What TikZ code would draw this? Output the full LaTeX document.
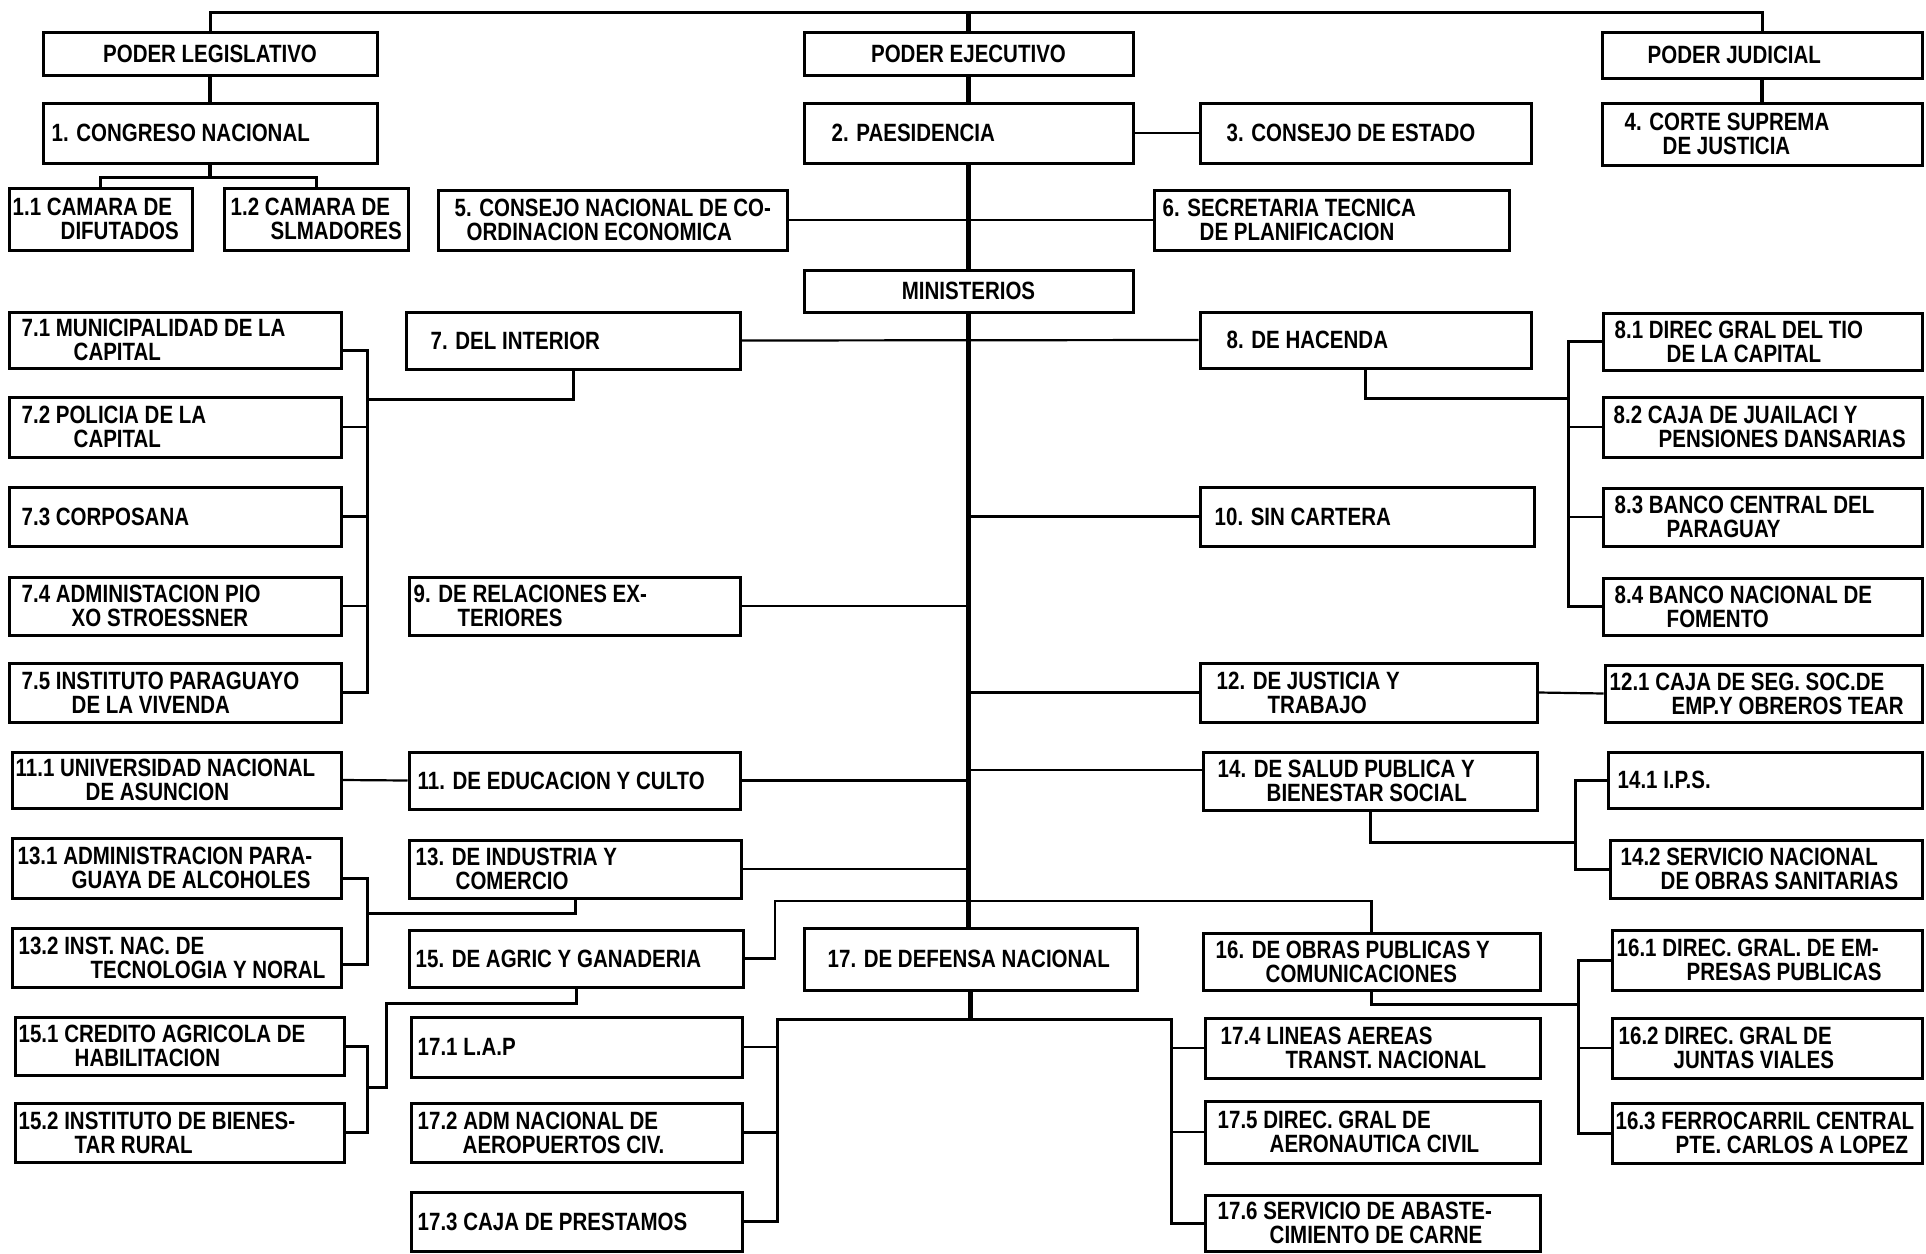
\documentclass[tikz,border=0pt]{standalone}
\usepackage{fontspec}
\newfontfamily\bxf{Liberation Sans}[FakeStretch=0.82]
\newcommand\bx[7][14]{%
 \pgfmathsetmacro\bxW{#5-#3}\pgfmathsetmacro\bxH{#6-#4}%
 \pgfmathsetmacro\bxX{(#3+#5)/2}\pgfmathsetmacro\bxY{(#4+#6)/2}%
 \node[bx, minimum width=\bxW pt, minimum height=\bxH pt,
   label={[lbl, xshift=#1pt]west:{#7}}] (#2) at (\bxX,\bxY) {};}
\newcommand\cbx[6]{%
 \pgfmathsetmacro\bxW{#4-#2}\pgfmathsetmacro\bxH{#5-#3}%
 \pgfmathsetmacro\bxX{(#2+#4)/2}\pgfmathsetmacro\bxY{(#3+#5)/2}%
 \node[bx, minimum width=\bxW pt, minimum height=\bxH pt, txt] (#1) at (\bxX,\bxY) {#6};}
\begin{document}
\begin{tikzpicture}[x=1pt,y=-1pt,
 bx/.style={draw, line width=3pt, inner sep=0pt},
 txt/.style={font=\bxf\bfseries\fontsize{25}{24}\selectfont},
 lbl/.style={anchor=west, align=left, inner sep=0pt, txt},
 conn/.style={line width=2.2pt},
 bus/.style={line width=3pt},
 spine/.style={line width=4.5pt}]
\useasboundingbox (0,0) rectangle (1926,1253);
\fill[white] (0,0) rectangle (1926,1253);
% boxes
\cbx{leg}{43}{32}{377}{75}{PODER LEGISLATIVO}
\cbx{ej}{804}{32}{1133}{75}{PODER EJECUTIVO}
\bx[47]{jud}{1602}{32}{1922}{78}{PODER JUDICIAL}
\bx[10]{cong}{43}{103}{377}{163}{1. CONGRESO NACIONAL}
\bx[29]{pres}{804}{103}{1133}{163}{2. PAESIDENCIA}
\bx[28]{con3}{1200}{103}{1531}{163}{3. CONSEJO DE ESTADO}
\bx[24]{cs4}{1602}{103}{1922}{165}{4. CORTE SUPREMA\\\hspace*{38pt}DE JUSTICIA}
\bx[5]{c11}{9}{188}{192}{250}{1.1 CAMARA DE\\\hspace*{48pt}DIFUTADOS}
\bx[8]{c12}{224}{188}{408}{250}{1.2 CAMARA DE\\\hspace*{40pt}SLMADORES}
\bx[18]{cn5}{438}{190}{787}{250}{5. CONSEJO NACIONAL DE CO-\\\hspace*{12pt}ORDINACION ECONOMICA}
\bx[10]{st6}{1154}{190}{1509}{250}{6. SECRETARIA TECNICA\\\hspace*{37pt}DE PLANIFICACION}
\cbx{mins}{804}{270}{1133}{312}{MINISTERIOS}
\bx{m71}{9}{312}{341}{368}{7.1 MUNICIPALIDAD DE LA\\\hspace*{52pt}CAPITAL}
\bx[26]{int7}{406}{312}{740}{369}{7. DEL INTERIOR}
\bx[28]{hac8}{1200}{312}{1531}{368}{8. DE HACENDA}
\bx[13]{d81}{1603}{313}{1922}{370}{8.1 DIREC GRAL DEL TIO\\\hspace*{52pt}DE LA CAPITAL}
\bx{m72}{9}{397}{341}{457}{7.2 POLICIA DE LA\\\hspace*{52pt}CAPITAL}
\bx[12]{d82}{1603}{397}{1922}{457}{8.2 CAJA DE JUAILACI Y\\\hspace*{45pt}PENSIONES DANSARIAS}
\bx{m73}{9}{487}{341}{546}{7.3 CORPOSANA}
\bx[16]{sc10}{1200}{487}{1534}{546}{10. SIN CARTERA}
\bx[13]{d83}{1603}{488}{1922}{546}{8.3 BANCO CENTRAL DEL\\\hspace*{52pt}PARAGUAY}
\bx{m74}{9}{577}{341}{635}{7.4 ADMINISTACION PIO\\\hspace*{50pt}XO STROESSNER}
\bx[6]{rel9}{409}{577}{740}{635}{9. DE RELACIONES EX-\\\hspace*{44pt}TERIORES}
\bx[13]{d84}{1603}{578}{1922}{635}{8.4 BANCO NACIONAL DE\\\hspace*{52pt}FOMENTO}
\bx{m75}{9}{663}{341}{722}{7.5 INSTITUTO PARAGUAYO\\\hspace*{50pt}DE LA VIVENDA}
\bx[18]{jus12}{1200}{663}{1537}{722}{12. DE JUSTICIA Y\\\hspace*{51pt}TRABAJO}
\bx[6]{c121}{1605}{665}{1922}{722}{12.1 CAJA DE SEG. SOC.DE\\\hspace*{62pt}EMP.Y OBREROS TEAR}
\bx[5]{u111}{12}{752}{341}{808}{11.1 UNIVERSIDAD NACIONAL\\\hspace*{70pt}DE ASUNCION}
\bx[10]{ed11}{409}{752}{740}{809}{11. DE EDUCACION Y CULTO}
\bx[16]{sal14}{1203}{752}{1537}{810}{14. DE SALUD PUBLICA Y\\\hspace*{49pt}BIENESTAR SOCIAL}
\bx[11]{ips141}{1608}{752}{1922}{808}{14.1 I.P.S.}
\bx[7]{a131}{12}{838}{341}{898}{13.1 ADMINISTRACION PARA-\\\hspace*{54pt}GUAYA DE ALCOHOLES}
\bx[8]{ind13}{409}{840}{741}{898}{13. DE INDUSTRIA Y\\\hspace*{40pt}COMERCIO}
\bx[12]{s142}{1610}{840}{1922}{898}{14.2 SERVICIO NACIONAL\\\hspace*{40pt}DE OBRAS SANITARIAS}
\bx[8]{i132}{12}{928}{341}{987}{13.2 INST. NAC. DE\\\hspace*{72pt}TECNOLOGIA Y NORAL}
\bx[8]{agr15}{409}{930}{743}{987}{15. DE AGRIC Y GANADERIA}
\bx[25]{def17}{804}{928}{1137}{990}{17. DE DEFENSA NACIONAL}
\bx[14]{obr16}{1203}{933}{1540}{990}{16. DE OBRAS PUBLICAS Y\\\hspace*{50pt}COMUNICACIONES}
\bx[6]{d161}{1612}{930}{1922}{990}{16.1 DIREC. GRAL. DE EM-\\\hspace*{70pt}PRESAS PUBLICAS}
\bx[5]{cr151}{15}{1017}{344}{1075}{15.1 CREDITO AGRICOLA DE\\\hspace*{56pt}HABILITACION}
\bx[8]{lap171}{411}{1017}{742}{1077}{17.1 L.A.P}
\bx[17]{l174}{1205}{1018}{1540}{1078}{17.4 LINEAS AEREAS\\\hspace*{65pt}TRANST. NACIONAL}
\bx[8]{d162}{1612}{1018}{1922}{1078}{16.2 DIREC. GRAL DE\\\hspace*{55pt}JUNTAS VIALES}
\bx[5]{ib152}{15}{1103}{344}{1162}{15.2 INSTITUTO DE BIENES-\\\hspace*{56pt}TAR RURAL}
\bx[8]{adm172}{411}{1103}{742}{1162}{17.2 ADM NACIONAL DE\\\hspace*{45pt}AEROPUERTOS CIV.}
\bx[14]{d175}{1205}{1101}{1540}{1163}{17.5 DIREC. GRAL DE\\\hspace*{52pt}AERONAUTICA CIVIL}
\bx[5]{f163}{1612}{1103}{1922}{1163}{16.3 FERROCARRIL CENTRAL\\\hspace*{60pt}PTE. CARLOS A LOPEZ}
\bx[8]{cp173}{411}{1192}{742}{1251}{17.3 CAJA DE PRESTAMOS}
\bx[14]{sa176}{1205}{1195}{1540}{1251}{17.6 SERVICIO DE ABASTE-\\\hspace*{52pt}CIMIENTO DE CARNE}
% top structure
\draw[bus] (leg.north) |- (ej.north |- 0,12) -| (jud.north);
\draw[spine] (ej.north) -- (ej.north |- 0,12);
\draw[spine] (leg.south) -- (cong.north);
\draw[spine] (jud.south) -- (cs4.north);
\draw[spine] (ej.south) -- (pres.north);
\draw[spine] (pres.south) -- (mins.north);
\draw[spine] (mins.south) -- (mins.south |- def17.north);
\draw[conn] (pres.east) -- (con3.west);
\draw[conn] (cn5.east) -- (st6.west);
\coordinate (jc) at (cong.south |- 0,177);
\draw[spine] (cong.south) -- (jc);
\draw[bus] (c11.north) |- (jc) -| (c12.north);
% ministries on spine
\draw[conn] (int7.east) -- (hac8.west);
\draw[conn] (sc10.west) -- (sc10.west -| mins.south);
\draw[conn] (rel9.east) -- (rel9.east -| mins.south);
\draw[conn] (jus12.west) -- (jus12.west -| mins.south);
\draw[conn] (jus12.east) -- (c121.west);
\coordinate (k14) at ([yshift=11pt]sal14.west);
\draw[conn] (k14) -- (k14 -| mins.south);
\draw[conn] (u111.east) -- (ed11.west);
\draw[conn] (ed11.east) -- (ed11.east -| mins.south);
\draw[conn] (ind13.east) -- (ind13.east -| mins.south);
\coordinate (j15) at (775,901);
\draw[conn] (agr15.east) -| (j15) -| (obr16.north);
% 7 group
\coordinate (bus7) at (367,0);
\coordinate (k71) at ([yshift=-10pt]m71.east);
\draw[bus] (k71) -| (bus7 |- m75.east) -- (m75.east);
\foreach \n in {m72,m73,m74} \draw[conn] (\n.east) -- (\n.east -| bus7);
\draw[bus] (int7.south) |- (bus7 |- 0,399);
% 8 group
\coordinate (bus8) at (1568,0);
\draw[bus] (d81.west) -| (bus8 |- d84.west) -- (d84.west);
\foreach \n in {d82,d83} \draw[conn] (\n.west) -- (\n.west -| bus8);
\draw[bus] (hac8.south) |- (bus8 |- 0,398);
% 14 group
\coordinate (bus14) at (1575,0);
\draw[bus] (ips141.west) -| (bus14 |- s142.west) -- (s142.west);
\draw[bus] (sal14.south) |- (bus14 |- 0,842);
% 13 group
\coordinate (bus13) at (367,0);
\coordinate (k131) at ([yshift=-10pt]a131.east);
\coordinate (k132) at ([yshift=-7pt]i132.east);
\draw[bus] (k131) -| (bus13 |- k132) -- (k132);
\draw[bus] (ind13.south) |- (bus13 |- 0,913);
% 15 group
\coordinate (bus15) at (367,0);
\draw[bus] (cr151.east) -| (bus15 |- ib152.east) -- (ib152.east);
\coordinate (j15b) at (386,1003);
\draw[bus] (agr15.south) |- (j15b) |- (bus15 |- 0,1087);
% 16 group
\coordinate (bus16) at (1578,0);
\draw[bus] (d161.west) -| (bus16 |- f163.west) -- (f163.west);
\draw[conn] (d162.west) -- (d162.west -| bus16);
\draw[bus] (obr16.south) |- (bus16 |- 0,1004);
% 17 group
\coordinate (bus17l) at (777,0);
\coordinate (bus17r) at (1171,0);
\draw[spine] (def17.south) -- (def17.south |- 0,1019);
\draw[bus] (cp173.east) -| (bus17l |- 0,1019) -- (bus17r |- 0,1019) |- (sa176.west);
\draw[conn] (lap171.east) -- (lap171.east -| bus17l);
\draw[conn] (adm172.east) -- (adm172.east -| bus17l);
\draw[conn] (l174.west) -- (l174.west -| bus17r);
\draw[conn] (d175.west) -- (d175.west -| bus17r);
\end{tikzpicture}
\end{document}
